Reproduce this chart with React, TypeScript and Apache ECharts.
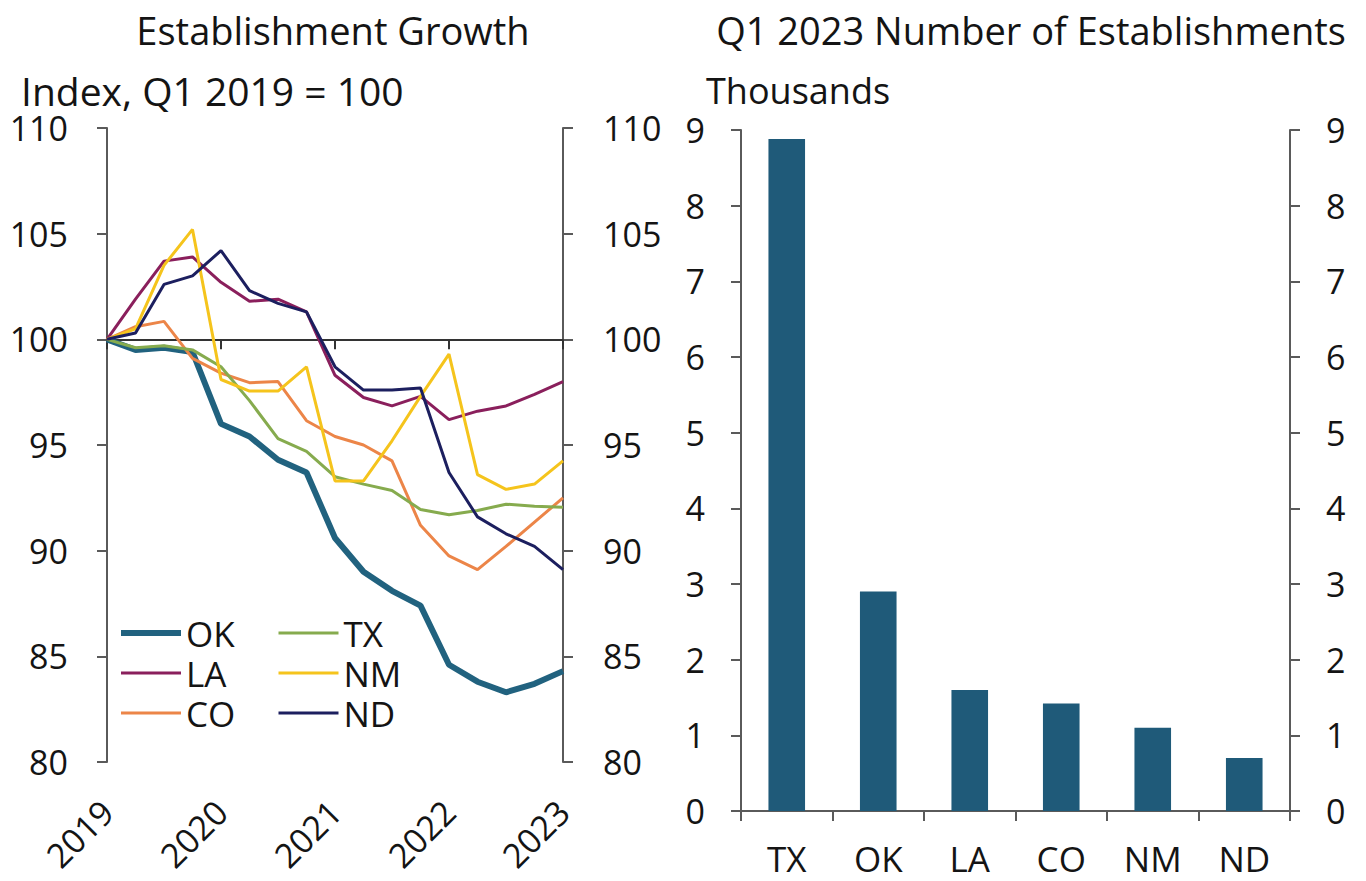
import React, { useEffect, useRef } from "react";
import * as echarts from "echarts";

const FONT = "'Open Sans', 'Noto Sans', sans-serif";
const TEXT = "#141414";
const AXIS = "#5a5a5a";

const quarters = [
  "2019 Q1", "2019 Q2", "2019 Q3", "2019 Q4",
  "2020 Q1", "2020 Q2", "2020 Q3", "2020 Q4",
  "2021 Q1", "2021 Q2", "2021 Q3", "2021 Q4",
  "2022 Q1", "2022 Q2", "2022 Q3", "2022 Q4",
  "2023 Q1",
];

const okIndex = [100, 99.5, 99.6, 99.4, 96.0, 95.4, 94.3, 93.7, 90.6, 89.0, 88.1, 87.4, 84.6, 83.8, 83.3, 83.7, 84.3];
const laIndex = [100, 101.9, 103.7, 103.9, 102.7, 101.8, 101.9, 101.3, 98.3, 97.25, 96.85, 97.3, 96.2, 96.6, 96.85, 97.4, 98.0];
const coIndex = [100, 100.6, 100.85, 99.1, 98.4, 97.95, 98.0, 96.15, 95.4, 95.0, 94.25, 91.2, 89.75, 89.1, 90.2, 91.35, 92.5];
const txIndex = [100, 99.6, 99.7, 99.5, 98.7, 97.1, 95.3, 94.7, 93.5, 93.15, 92.85, 91.95, 91.7, 91.9, 92.2, 92.1, 92.05];
const nmIndex = [100, 100.5, 103.5, 105.2, 98.1, 97.55, 97.55, 98.7, 93.3, 93.3, 95.2, 97.3, 99.3, 93.6, 92.9, 93.15, 94.25];
const ndIndex = [100, 100.3, 102.6, 103.0, 104.2, 102.3, 101.7, 101.3, 98.7, 97.6, 97.6, 97.7, 93.7, 91.6, 90.8, 90.2, 89.1];

const lineSeriesDefs = [
  { name: "OK", data: okIndex, color: "#21627f", width: 6 },
  { name: "LA", data: laIndex, color: "#8a1f5c", width: 3 },
  { name: "CO", data: coIndex, color: "#ec8548", width: 3 },
  { name: "TX", data: txIndex, color: "#86ab4e", width: 3 },
  { name: "NM", data: nmIndex, color: "#f5c41c", width: 3 },
  { name: "ND", data: ndIndex, color: "#1c1f5f", width: 3 },
];

const barStates = ["TX", "OK", "LA", "CO", "NM", "ND"];
const barThousands = [8.88, 2.9, 1.6, 1.42, 1.1, 0.7];

const leftTitle = "Establishment Growth";
const leftUnit = "Index, Q1 2019 = 100";
const rightTitle = "Q1 2023 Number of Establishments";
const rightUnit = "Thousands";

export default function App() {
  const ref = useRef<HTMLDivElement>(null);

  useEffect(() => {
    if (!ref.current) return;
    const chart = echarts.init(ref.current, undefined, { renderer: "svg" });

    const valueAxisCommon = (gridIndex: number, position: string, min: number, max: number, interval: number, margin: number) => ({
      type: "value",
      gridIndex,
      position,
      min,
      max,
      interval,
      axisLine: { show: true, onZero: false, lineStyle: { color: AXIS, width: 2 } },
      axisTick: { show: true, inside: false, length: 10, lineStyle: { color: AXIS, width: 2 } },
      axisLabel: { show: true, margin, color: TEXT, fontSize: 34, fontFamily: FONT },
      splitLine: { show: false },
    });

    const textStyle = (fontSize: number) => ({ fontSize, fontFamily: FONT, fill: TEXT, lineHeight: Math.round(fontSize * 0.9) });

    const legendItems = (names: string[]) =>
      names.map((n) => {
        const d = lineSeriesDefs.find((s) => s.name === n)!;
        return { name: n, lineStyle: { width: d.width, color: d.color } };
      });

    const legendCommon = {
      orient: "vertical",
      top: 615,
      padding: 0,
      itemGap: 4,
      itemWidth: 60,
      itemHeight: 14,
      selectedMode: false,
      itemStyle: { opacity: 0 },
      lineStyle: { width: "inherit" },
      textStyle: { fontSize: 35, fontFamily: FONT, color: TEXT, lineHeight: 36 },
    };

    const option: any = {
      animation: false,
      backgroundColor: "#ffffff",
      textStyle: { fontFamily: FONT, color: TEXT },
      graphic: [
        { type: "text", x: 333, y: 30, style: { text: leftTitle, ...textStyle(38), align: "center", verticalAlign: "middle" } },
        { type: "text", x: 21, y: 90, style: { text: leftUnit, ...textStyle(39), align: "left", verticalAlign: "middle" } },
        { type: "text", x: 1031, y: 30, style: { text: rightTitle, ...textStyle(38), align: "center", verticalAlign: "middle" } },
        { type: "text", x: 706, y: 90, style: { text: rightUnit, ...textStyle(36), align: "left", verticalAlign: "middle" } },
      ],
      legend: [
        { ...legendCommon, data: legendItems(["OK", "LA", "CO"]), left: 118 },
        { ...legendCommon, data: legendItems(["TX", "NM", "ND"]), left: 277 },
      ],
      grid: [
        { left: 107, top: 128, width: 456, height: 634 },
        { left: 741, top: 130, width: 549, height: 681 },
      ],
      xAxis: [
        {
          type: "category",
          gridIndex: 0,
          data: quarters,
          boundaryGap: false,
          position: "bottom",
          axisLine: { show: true, onZero: true, onZeroAxisIndex: 2, lineStyle: { color: "#333333", width: 2 } },
          axisTick: { show: true, inside: false, interval: 3, length: 10, lineStyle: { color: "#333333", width: 2 } },
          axisLabel: { show: false },
          splitLine: { show: false },
        },
        {
          type: "category",
          gridIndex: 0,
          data: quarters,
          boundaryGap: false,
          position: "bottom",
          axisLine: { show: false, onZero: false },
          axisTick: { show: false },
          axisLabel: {
            show: true,
            interval: 3,
            rotate: 45,
            margin: 44,
            color: TEXT,
            fontSize: 34,
            fontFamily: FONT,
            formatter: (v: string) => v.slice(0, 4),
          },
          splitLine: { show: false },
        },
        {
          type: "category",
          gridIndex: 1,
          data: barStates,
          boundaryGap: true,
          position: "bottom",
          axisLine: { show: true, onZero: false, lineStyle: { color: AXIS, width: 2 } },
          axisTick: { show: true, inside: false, length: 10, alignWithLabel: false, lineStyle: { color: AXIS, width: 2 } },
          axisLabel: { show: true, margin: 30, color: TEXT, fontSize: 35, fontFamily: FONT },
          splitLine: { show: false },
        },
      ],
      yAxis: [
        valueAxisCommon(0, "left", 80, 110, 5, 39),
        valueAxisCommon(0, "right", 80, 110, 5, 40),
        { type: "value", gridIndex: 0, position: "left", min: -20, max: 10, show: false },
        valueAxisCommon(1, "left", 0, 9, 1, 36),
        valueAxisCommon(1, "right", 0, 9, 1, 36),
      ],
      series: [
        ...lineSeriesDefs.map((d) => ({
          type: "line",
          name: d.name,
          xAxisIndex: 0,
          yAxisIndex: 0,
          data: d.data,
          symbol: "none",
          showSymbol: false,
          lineStyle: { color: d.color, width: d.width },
          itemStyle: { color: d.color },
        })),
        {
          type: "bar",
          name: "Establishments",
          xAxisIndex: 2,
          yAxisIndex: 3,
          data: barThousands,
          barWidth: "40%",
          itemStyle: { color: "#1f5a79" },
        },
      ],
    };

    chart.setOption(option);
    return () => chart.dispose();
  }, []);

  return (
    <div
      ref={ref}
      style={{ position: "fixed", left: 0, top: 0, width: 1366, height: 881, background: "#fff" }}
    />
  );
}
